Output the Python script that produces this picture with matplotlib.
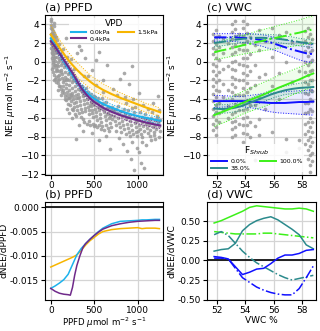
import numpy as np
import matplotlib
matplotlib.use("Agg")
import matplotlib.pyplot as plt
from matplotlib.ticker import FormatStrFormatter

# ---------- colours ----------
C_00 = '#1cb2ec'   # VPD 0.0kPa
C_04 = '#6f2a8a'   # VPD 0.4kPa
C_15 = '#f7b500'   # VPD 1.5kPa
C_S0 = '#1010ff'   # Fshrub 0.0%
C_S38 = '#2b8a8c'  # Fshrub 38.0%
C_S100 = '#3cf019' # Fshrub 100.0%
PT = '#9a9a9a'

# ---------- panel (a): NEE vs PPFD ----------
ppfd = [0, 50, 100, 150, 200, 250, 300, 350, 400, 450, 500, 600, 700, 800, 900, 1000, 1100, 1200, 1260]
nee_00 = [2.5, 1.7, 0.9, 0.1, -0.7, -1.4, -2.1, -2.7, -3.2, -3.6, -3.95, -4.5, -4.9, -5.25, -5.55, -5.8, -6.0, -6.2, -6.3]
nee_00_hi = [2.9, 2.05, 1.25, 0.45, -0.35, -1.05, -1.75, -2.35, -2.85, -3.25, -3.6, -4.15, -4.55, -4.9, -5.2, -5.45, -5.65, -5.85, -5.95]
nee_00_lo = [2.1, 1.35, 0.55, -0.25, -1.05, -1.75, -2.45, -3.05, -3.55, -3.95, -4.3, -4.85, -5.25, -5.6, -5.9, -6.15, -6.35, -6.55, -6.65]
nee_04 = [2.2, 1.6, 0.9, 0.2, -0.5, -1.2, -2.0, -2.8, -3.4, -3.9, -4.3, -4.9, -5.35, -5.7, -6.0, -6.25, -6.5, -6.7, -6.8]
nee_04_hi = [2.55, 1.95, 1.25, 0.55, -0.15, -0.85, -1.65, -2.45, -3.05, -3.55, -3.95, -4.55, -5.0, -5.35, -5.65, -5.9, -6.15, -6.35, -6.45]
nee_04_lo = [1.85, 1.25, 0.55, -0.15, -0.85, -1.55, -2.35, -3.15, -3.75, -4.25, -4.65, -5.25, -5.7, -6.05, -6.35, -6.6, -6.85, -7.05, -7.15]
nee_15 = [2.9, 2.2, 1.5, 0.85, 0.2, -0.35, -0.85, -1.3, -1.7, -2.1, -2.45, -3.0, -3.45, -3.85, -4.2, -4.55, -4.9, -5.2, -5.4]
nee_15_hi = [3.9, 3.1, 2.35, 1.7, 1.05, 0.5, -0.05, -0.5, -0.95, -1.4, -1.75, -2.35, -2.85, -3.3, -3.7, -4.05, -4.45, -4.75, -4.95]
nee_15_lo = [2.0, 1.4, 0.75, 0.15, -0.55, -1.1, -1.6, -2.05, -2.45, -2.8, -3.15, -3.65, -4.05, -4.45, -4.75, -5.05, -5.4, -5.65, -5.85]

ppfd_pts = [5, 8, 10, 12, 15, 18, 20, 22, 25, 28, 6, 9, 11, 14, 16, 19, 21, 24, 27, 30, 4, 7, 13, 17, 23,
            26, 29, 32, 35, 38, 41, 44, 47, 50, 53, 56, 36, 40, 45, 48, 52, 55, 58, 3, 33, 43, 60, 31, 39,
            65, 70, 75, 80, 85, 90, 95, 100, 68, 72, 78, 83, 88, 105, 110, 115, 120, 125, 130, 135, 140, 145,
            150, 108, 118, 128, 155, 160, 165, 170, 175, 180, 185, 190, 195, 162, 172, 182, 198, 92, 138, 178,
            205, 210, 215, 220, 225, 230, 235, 240, 245, 250, 255, 260, 265, 270, 275, 280, 285, 290, 295, 300,
            305, 310, 318, 325, 332, 340, 348, 355, 362, 370, 378, 385, 392, 398, 228, 262, 300, 330, 352, 380,
            395, 250, 320, 370, 290,
            405, 412, 420, 428, 435, 442, 450, 458, 465, 472, 480, 488, 495, 502, 510, 518, 525, 532, 540, 548,
            556, 564, 572, 580, 590, 600, 610, 620, 630, 640, 650, 660, 670, 680, 690, 698, 430, 470, 520, 560,
            600, 650, 520, 470, 560, 630, 680, 600,
            705, 715, 725, 735, 745, 755, 765, 775, 785, 795, 805, 815, 825, 835, 845, 855, 865, 875, 885, 895,
            905, 915, 925, 935, 945, 955, 965, 975, 985, 995, 720, 760, 800, 850, 900, 950, 780, 830, 880, 920,
            960, 990, 940, 870, 970, 843, 930,
            1005, 1015, 1025, 1035, 1045, 1055, 1065, 1075, 1085, 1095, 1105, 1115, 1125, 1135, 1145, 1155,
            1165, 1175, 1185, 1195, 1205, 1215, 1225, 1235, 1245, 1255, 1010, 1060, 1120, 1180, 1230, 1040,
            1070, 1020, 1100, 1200, 1250]
nee_pts = [4.3, 3.9, 3.5, 3.1, 2.8, 2.4, 2.0, 1.6, 1.2, 0.8, 3.0, 2.6, 2.2, 1.8, 1.4, 1.0, 0.6, 0.2, -0.2, -0.6, 2.0, 1.5, 0.9, 0.4, 0.0,
           3.3, 2.9, 2.5, 2.1, 1.7, 1.3, 0.9, 0.5, 0.1, -0.3, -0.7, 3.8, 3.1, 2.7, 2.2, 1.8, 1.4, 1.0, 4.6, 4.1, -0.4, -1.0, -1.1, -1.4,
           1.6, 1.0, 0.5, 0.0, -0.5, -1.0, -1.4, -1.8, -0.3, -0.9, -1.5, -2.0, -2.3, 0.8, 0.2, -0.4, -0.9, -1.3, -1.7, -2.2, -2.6, -3.0,
           -3.3, -2.6, -2.9, -3.2, -0.6, -1.1, -1.6, -2.0, -2.4, -2.8, -3.2, -3.6, -3.9, -3.7, -4.1, 0.5, -1.3, 1.9, 1.4, 2.5,
           -2.0, -2.5, -3.0, -3.4, -3.8, -4.2, -1.6, -2.2, -2.8, -3.3, -3.7, -4.0, -4.4, -4.8, -2.6, -3.1, -3.5, -3.9, -4.3, -4.7,
           -5.1, -2.9, -3.4, -3.8, -4.2, -4.6, -5.0, -5.4, -3.2, -3.7, -4.1, -4.5, -4.9, -5.3, 0.3, -0.8, 0.9, 1.7, 1.2, -1.5,
           0.4, -6.0, -6.8, -7.4, -8.2,
           -3.6, -4.0, -4.4, -4.8, -5.2, -5.6, -3.9, -4.3, -4.7, -5.1, -5.5, -5.9, -4.1, -4.6, -5.0, -5.4, -5.8, -6.2, -4.4, -4.8,
           -5.2, -5.6, -6.0, -6.4, -4.6, -5.0, -5.4, -5.8, -6.2, -4.3, -4.9, -5.5, -6.0, -6.5, -5.1, -5.7, -1.5, -0.9, -2.5, 1.0,
           -2.0, -0.4, 0.2, -7.6, -8.4, -7.9, -9.3, -3.2,
           -4.8, -5.3, -5.8, -6.3, -6.8, -5.0, -5.5, -6.0, -6.5, -7.0, -5.3, -5.8, -6.3, -6.8, -7.2, -5.6, -6.1, -6.6, -7.1, -7.5,
           -5.8, -6.3, -6.8, -7.3, -7.7, -6.0, -6.5, -7.0, -7.5, -7.9, -2.9, -3.6, -1.8, -3.8, -2.4, -4.0, -8.1, -8.8, -9.5, -10.4,
           -11.6, -9.2, -8.6, -4.4, -4.8, -1.2, -0.5,
           -6.2, -6.7, -7.2, -7.7, -5.9, -6.4, -6.9, -7.4, -6.1, -6.6, -7.1, -7.6, -6.3, -6.8, -7.3, -6.0,
           -6.5, -7.0, -7.5, -6.2, -6.7, -7.2, -5.8, -6.4, -6.9, -7.4, -3.3, -4.6, -5.0, -4.4, -3.7, -10.8,
           -11.3, -9.6, -8.9, -8.3, -5.2]

# extra points filling the dense band under the curves
ppfd_more = [2, 34, 46, 62, 70, 88, 96, 57, 64, 82, 37, 12, 98,
             112, 122, 134, 148, 158, 168, 188, 193, 208, 214, 222, 238, 244, 252, 258, 268, 278, 288, 296, 212, 186,
             308, 315, 322, 336, 344, 358, 366, 374, 388, 402, 415, 424, 438, 446, 455, 462, 476, 484, 492, 498,
             506, 514, 528, 536, 544, 552, 568, 576, 585, 595, 605, 615, 625, 635, 645, 655, 665, 675, 685, 695,
             710, 730, 750, 770, 790,
             810, 840, 860, 890, 910, 930, 960, 980, 1000, 1030, 1050, 1080, 1110, 1140, 1160, 1190, 1220, 1240,
             1258, 1050, 1150]
nee_more = [3.6, 0.4, -1.8, -2.2, 2.3, 0.9, -2.6, 2.6, -1.6, -3.0, -2.0, -0.8, 0.3,
            -1.1, -3.6, -0.1, -1.9, -4.0, -0.3, -1.8, -4.5, -3.9, -1.2, -4.6, -3.6, -5.0, -2.0, -5.2, -1.9, -5.6, -2.2, -5.8, -5.5, -5.0,
            -3.9, -2.4, -5.5, -3.0, -5.9, -2.6, -6.1, -3.5, -6.4, -2.8, -6.6, -3.2, -6.3, -4.6, -6.8, -3.4, -4.4, -6.6, -3.7, -6.9,
            -3.8, -6.7, -4.2, -7.0, -3.9, -6.8, -4.9, -7.2, -3.9, -6.9, -4.4, -7.3, -5.0, -6.8, -5.6, -7.1, -4.8, -7.4, -5.8, -7.0,
            -6.1, -5.1, -7.4, -4.7, -5.6,
            -7.5, -5.0, -7.7, -5.2, -7.9, -4.9, -5.4, -6.3, -7.4, -5.4, -8.0, -5.6, -6.0, -7.9, -5.4, -7.8, -6.0, -8.0,
            -6.2, -8.6, -8.4]

# ---------- panel (b): dNEE/dPPFD ----------
ppfd_b = [0, 50, 100, 150, 200, 250, 300, 350, 400, 450, 500, 550, 600, 700, 800, 900, 1000, 1050, 1100, 1200, 1250]
d_00 = [-0.0167, -0.0162, -0.0156, -0.0149, -0.0138, -0.0118, -0.0098, -0.0085, -0.0075, -0.0066, -0.0058,
        -0.0050, -0.0043, -0.0034, -0.0029, -0.0028, -0.0027, -0.0026, -0.0026, -0.0025, -0.0025]
d_15 = [-0.0123, -0.0119, -0.0115, -0.0111, -0.0107, -0.0103, -0.0098, -0.0089, -0.0078, -0.0069, -0.0062,
        -0.0055, -0.0050, -0.0046, -0.0044, -0.0043, -0.0042, -0.0044, -0.0043, -0.0043, -0.0044]
ppfd_b04 = [0, 50, 100, 150, 200, 225, 250, 275, 300, 335, 370, 400, 450, 500, 550, 600, 700, 800, 900, 1000, 1100, 1200, 1250]
d_04 = [-0.0167, -0.0173, -0.0177, -0.0179, -0.0180, -0.0181, -0.0165, -0.0140, -0.0120, -0.0100, -0.0083,
        -0.0075, -0.0066, -0.0058, -0.0051, -0.0045, -0.0038, -0.0034, -0.0031, -0.0029, -0.0028, -0.0027, -0.0027]

# ---------- panel (c): NEE vs VWC ----------
vwc = [51.8, 52.3, 52.8, 53.3, 53.8, 54.3, 54.8, 55.3, 55.8, 56.3, 56.8, 57.3, 57.8, 58.3, 58.8]
s0_lo = [-4.2, -4.2, -4.2, -4.2, -4.2, -4.25, -4.3, -4.35, -4.4, -4.4, -4.4, -4.35, -4.3, -4.3, -4.25]
s0_lo_hi = [-3.6, -3.6, -3.65, -3.7, -3.7, -3.6, -3.5, -3.4, -3.35, -3.3, -3.2, -3.15, -3.1, -3.05, -3.0]
s0_lo_lo = [-4.9, -4.85, -4.8, -4.8, -4.8, -4.9, -5.0, -5.2, -5.35, -5.45, -5.5, -5.55, -5.6, -5.65, -5.7]
s0_hi = [2.6, 2.6, 2.6, 2.6, 2.55, 2.5, 2.4, 2.25, 2.05, 1.8, 1.55, 1.3, 1.1, 0.9, 0.8]
s0_hi_hi = [3.0, 3.0, 3.0, 3.0, 3.0, 3.0, 2.95, 2.85, 2.7, 2.55, 2.35, 2.2, 2.05, 1.9, 1.8]
s0_hi_lo = [2.2, 2.2, 2.2, 2.15, 2.05, 1.95, 1.8, 1.6, 1.35, 1.1, 0.8, 0.5, 0.2, 0.0, -0.1]
s38_lo = [-5.0, -5.05, -5.0, -4.9, -4.7, -4.4, -4.1, -3.8, -3.5, -3.25, -3.05, -2.9, -2.8, -2.75, -2.7]
s38_lo_hi = [-4.6, -4.6, -4.55, -4.45, -4.25, -3.95, -3.65, -3.35, -3.05, -2.8, -2.6, -2.45, -2.3, -2.2, -2.1]
s38_lo_lo = [-5.5, -5.5, -5.45, -5.35, -5.15, -4.85, -4.55, -4.25, -3.95, -3.7, -3.5, -3.4, -3.35, -3.3, -3.3]
s38_hi = [2.0, 2.1, 2.2, 2.35, 2.45, 2.5, 2.55, 2.55, 2.5, 2.45, 2.35, 2.25, 2.1, 2.0, 1.9]
s38_hi_hi = [2.4, 2.5, 2.6, 2.75, 2.85, 2.9, 2.95, 2.95, 2.9, 2.85, 2.75, 2.65, 2.5, 2.4, 2.3]
s38_hi_lo = [1.6, 1.7, 1.8, 1.95, 2.05, 2.1, 2.15, 2.15, 2.1, 2.05, 1.95, 1.85, 1.7, 1.6, 1.5]
s100_lo = [-5.7, -5.4, -5.1, -4.75, -4.4, -4.1, -3.8, -3.5, -3.15, -2.8, -2.5, -2.2, -1.9, -1.55, -1.25]
s100_lo_hi = [-4.6, -4.25, -3.9, -3.55, -3.2, -2.85, -2.5, -2.2, -1.85, -1.5, -1.2, -0.9, -0.6, -0.3, 0.0]
s100_lo_lo = [-6.9, -6.6, -6.3, -5.95, -5.6, -5.3, -5.05, -4.8, -4.5, -4.2, -3.85, -3.55, -3.25, -2.95, -2.7]
s100_hi = [1.0, 1.2, 1.35, 1.55, 1.75, 1.9, 2.1, 2.25, 2.45, 2.6, 2.75, 2.95, 3.1, 3.3, 3.45]
s100_hi_hi = [2.0, 2.2, 2.4, 2.6, 2.8, 3.0, 3.25, 3.45, 3.65, 3.85, 4.05, 4.25, 4.45, 4.7, 4.9]
s100_hi_lo = [0.2, 0.35, 0.5, 0.65, 0.8, 0.95, 1.05, 1.2, 1.3, 1.45, 1.55, 1.65, 1.75, 1.9, 2.0]

# scatter in columns of VWC
vwc_cols = [51.75, 51.95, 52.15, 52.45, 52.8, 53.05, 53.3, 53.55, 53.85, 54.1, 54.35, 54.7, 55.0,
            55.4, 55.9, 56.4, 56.9, 57.3, 57.8, 58.2, 58.4, 58.55, 58.7]
nee_cols = [
    [3.0, 2.2, 1.5, 0.8, -0.2, -1.0, -1.8, -2.6, -3.4, -4.2, -5.0, -5.8, -6.6, -7.3],
    [3.4, 2.6, 1.9, 1.2, 0.4, -0.5, -1.4, -2.2, -3.0, -3.8, -4.6, -5.4, -6.2, -7.0, -7.8],
    [2.8, 1.6, 0.2, -1.1, -2.0, -3.1, -4.4, -5.5, -6.4],
    [2.5, 0.9, -0.8, -2.4, -3.8, -5.2],
    [2.0, -0.5, -3.0, -4.7, -6.0],
    [4.0, 3.2, 2.4, 1.6, 0.8, 0.0, -0.8, -1.6, -2.4, -3.2, -4.0, -4.8, -5.6, -6.4, -7.2, -8.0],
    [4.4, 3.5, 2.7, 1.8, 1.0, 0.1, -0.9, -1.8, -2.7, -3.6, -4.5, -5.4, -6.3, -7.0, -7.8],
    [3.0, 1.4, -0.2, -1.9, -3.5, -5.1, -6.6],
    [4.3, 3.6, 2.8, 2.0, 1.2, 0.4, -0.4, -1.2, -2.0, -2.8, -3.6, -4.4, -5.2, -6.0, -6.8, -7.6, -8.6],
    [4.0, 3.1, 2.2, 1.3, 0.4, -0.5, -1.4, -2.3, -3.2, -4.1, -5.0, -5.9, -6.8, -7.7, -9.3],
    [2.6, 0.8, -1.0, -2.8, -4.6, -6.4, -8.0],
    [1.8, -0.4, -2.5, -4.6, -6.9, -10.5],
    [3.4, 1.2, -1.6, -3.9, -6.1, -7.8],
    [2.2, -1.3, -5.0],
    [3.6, 0.5, -2.6, -7.5],
    [2.9, -1.2, -4.0],
    [3.2, 0.0, -8.3, -9.6],
    [2.1, -2.2],
    [-1.0, -8.4, -9.2, -10.4],
    [3.3, 2.2, 1.1, 0.0, -1.1, -2.2, -3.3, -4.4, -5.5, -6.6, -7.7, -8.8],
    [3.6, 2.6, 1.6, 0.6, -0.4, -1.4, -2.4, -3.4, -4.4, -5.4, -6.4, -7.4, -8.4, -9.4, -10.4],
    [3.0, 2.0, 1.0, 0.0, -1.0, -2.0, -3.0, -4.0, -5.0, -6.0, -7.0, -8.0, -9.0, -10.0, -11.0, -11.8],
    [2.4, 1.3, 0.2, -0.9, -2.0, -3.1, -4.2, -5.3, -6.4, -7.5, -8.6, -9.7, -10.6],
]

# ---------- panel (d): dNEE/dVWC ----------
dv_s100 = [0.48, 0.51, 0.55, 0.59, 0.63, 0.68, 0.70, 0.69, 0.68, 0.67, 0.66, 0.66, 0.67, 0.66, 0.63]
dv_s100_hi = [0.37, 0.36, 0.35, 0.34, 0.34, 0.34, 0.34, 0.35, 0.35, 0.34, 0.33, 0.32, 0.31, 0.30, 0.29]
dv_s38 = [0.12, 0.14, 0.15, 0.22, 0.38, 0.46, 0.51, 0.54, 0.56, 0.52, 0.46, 0.40, 0.33, 0.20, 0.15]
dv_s38_hi = [0.33, 0.37, 0.32, 0.22, 0.12, 0.04, -0.03, -0.08, -0.13, -0.18, -0.22, -0.25, -0.23, -0.21, -0.19]
dv_s0 = [0.05, 0.04, 0.02, -0.08, -0.18, -0.15, -0.11, -0.10, -0.04, 0.03, 0.07, 0.07, 0.09, 0.13, 0.14]
dv_s0_hi = [0.03, 0.03, 0.02, -0.10, -0.22, -0.28, -0.34, -0.38, -0.41, -0.43, -0.44, -0.44, -0.36, -0.22, -0.07]

plt.rcParams['font.family'] = 'DejaVu Sans'
plt.rcParams['xtick.labelsize'] = 6.5
plt.rcParams['ytick.labelsize'] = 6.5
plt.rcParams['axes.linewidth'] = 0.8

fig = plt.figure(figsize=(3.2, 3.31), dpi=100)
ax_a = fig.add_axes([0.141, 0.471, 0.368, 0.484])
ax_b = fig.add_axes([0.141, 0.095, 0.368, 0.295])
ax_c = fig.add_axes([0.647, 0.471, 0.341, 0.484])
ax_d = fig.add_axes([0.647, 0.095, 0.341, 0.295])

for ax in (ax_a, ax_b, ax_c, ax_d):
    ax.grid(True, color='#d4d4d4', lw=0.9)
    ax.set_axisbelow(True)
    ax.tick_params(length=3, width=0.8, pad=1.5)

unit = r'$\mu$mol m$^{-2}$ s$^{-1}$'

# (a)
ax_a.scatter(ppfd_pts + ppfd_more, nee_pts + nee_more, s=7, color=PT, alpha=0.85, lw=0, zorder=1)
for y, hi, lo, c, lab in [(nee_00, nee_00_hi, nee_00_lo, C_00, '0.0kPa'),
                          (nee_04, nee_04_hi, nee_04_lo, C_04, '0.4kPa'),
                          (nee_15, nee_15_hi, nee_15_lo, C_15, '1.5kPa')]:
    ax_a.fill_between(ppfd, lo, hi, color=c, alpha=0.1, lw=0, zorder=2)
    ax_a.plot(ppfd, hi, ':', color=c, lw=0.7, zorder=2)
    ax_a.plot(ppfd, lo, ':', color=c, lw=0.7, zorder=2)
    ax_a.plot(ppfd, y, '-', color=c, lw=1.5, label=lab, zorder=3)
ax_a.set_xlim(-65, 1290)
ax_a.set_ylim(-12.1, 5.0)
ax_a.set_xticks([0, 500, 1000])
ax_a.set_yticks(np.arange(-12, 5, 2))
ax_a.set_ylabel('NEE ' + unit, fontsize=6.5, labelpad=1)
ax_a.set_title('(a) PPFD', loc='left', fontsize=8, pad=3)
leg = ax_a.legend(title='VPD', ncol=2, loc='upper right', fontsize=4.5, title_fontsize=6.5,
                  frameon=True, framealpha=0.85, edgecolor='none', borderpad=0.2,
                  handlelength=2.5, columnspacing=1.2, labelspacing=0.2, handletextpad=0.6)

# (b)
ax_b.axhline(0, color='black', lw=1.2)
ax_b.plot(ppfd_b, d_15, color=C_15, lw=1.1)
ax_b.plot(ppfd_b, d_00, color=C_00, lw=1.1)
ax_b.plot(ppfd_b04, d_04, color=C_04, lw=1.1)
ax_b.set_xlim(-65, 1290)
ax_b.set_ylim(-0.019, 0.0011)
ax_b.set_xticks([0, 500, 1000])
ax_b.set_yticks([0.0, -0.005, -0.010, -0.015])
ax_b.yaxis.set_major_formatter(FormatStrFormatter('%.3f'))
ax_b.set_ylabel('dNEE/dPPFD', fontsize=6.5, labelpad=1)
ax_b.set_xlabel('PPFD ' + unit, fontsize=6.2, labelpad=0.5)
ax_b.set_title('(b) PPFD', loc='left', fontsize=8, pad=3)

# (c)
for x0, ys in zip(vwc_cols, nee_cols):
    ax_c.scatter([x0] * len(ys), ys, s=7, color=PT, alpha=0.85, lw=0, zorder=1)
for lo_line, lo_hi, lo_lo, hi_line, hi_hi, hi_lo, c, lab in [
        (s0_lo, s0_lo_hi, s0_lo_lo, s0_hi, s0_hi_hi, s0_hi_lo, C_S0, '0.0%'),
        (s38_lo, s38_lo_hi, s38_lo_lo, s38_hi, s38_hi_hi, s38_hi_lo, C_S38, '38.0%'),
        (s100_lo, s100_lo_hi, s100_lo_lo, s100_hi, s100_hi_hi, s100_hi_lo, C_S100, '100.0%')]:
    for hi, lo in [(lo_hi, lo_lo), (hi_hi, hi_lo)]:
        ax_c.fill_between(vwc, lo, hi, color=c, alpha=0.08, lw=0, zorder=2)
        ax_c.plot(vwc, hi, ':', color=c, lw=0.7, zorder=2)
        ax_c.plot(vwc, lo, ':', color=c, lw=0.7, zorder=2)
    ax_c.plot(vwc, lo_line, '-', color=c, lw=1.4, label=lab, zorder=3)
    ax_c.plot(vwc, hi_line, '-.', color=c, lw=1.4, zorder=3)
ax_c.set_xlim(51.3, 59.0)
ax_c.set_ylim(-12.1, 5.0)
ax_c.set_xticks([52, 54, 56, 58])
ax_c.set_yticks(np.arange(-10, 5, 2))
ax_c.set_ylabel('NEE ' + unit, fontsize=6.5, labelpad=1)
ax_c.set_title('(c) VWC', loc='left', fontsize=8, pad=3)
ax_c.legend(title='F$_{Shrub}$', ncol=2, loc='lower left', fontsize=4.5, title_fontsize=6.5,
            frameon=True, framealpha=0.85, edgecolor='none', borderpad=0.2,
            handlelength=2.5, columnspacing=1.5, labelspacing=0.2, handletextpad=0.6)

# (d)
ax_d.axhline(0, color='black', lw=1.2)
ax_d.plot(vwc, dv_s100, '-', color=C_S100, lw=1.1)
ax_d.plot(vwc, dv_s100_hi, '-.', color=C_S100, lw=1.1)
ax_d.plot(vwc, dv_s38, '-', color=C_S38, lw=1.1)
ax_d.plot(vwc, dv_s38_hi, '-.', color=C_S38, lw=1.1)
ax_d.plot(vwc, dv_s0, '-', color=C_S0, lw=1.1)
ax_d.plot(vwc, dv_s0_hi, '-.', color=C_S0, lw=1.1)
ax_d.set_xlim(51.3, 59.0)
ax_d.set_ylim(-0.5, 0.75)
ax_d.set_xticks([52, 54, 56, 58])
ax_d.set_yticks([-0.5, -0.25, 0.0, 0.25, 0.5])
ax_d.yaxis.set_major_formatter(FormatStrFormatter('%.2f'))
ax_d.set_ylabel('dNEE/dVWC', fontsize=6.5, labelpad=1)
ax_d.set_xlabel('VWC %', fontsize=6.5, labelpad=1)
ax_d.set_title('(d) VWC', loc='left', fontsize=8, pad=3)

fig.savefig('out.png', dpi=100)
